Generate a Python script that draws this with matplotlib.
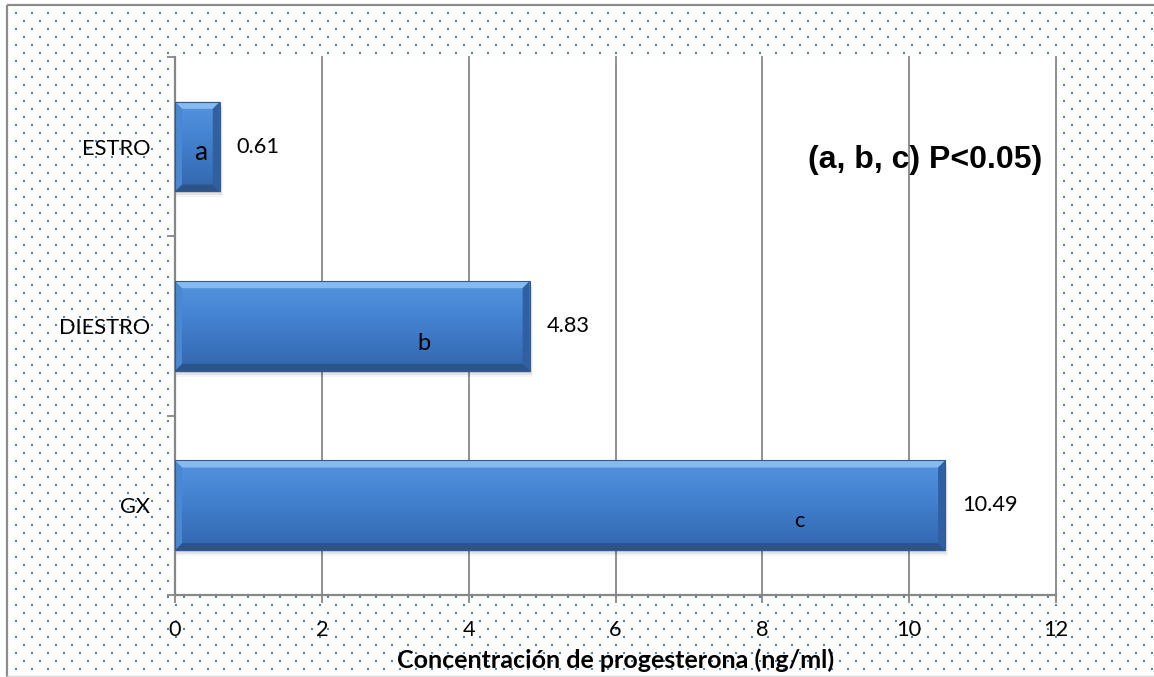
import matplotlib
matplotlib.use("Agg")
import matplotlib.pyplot as plt
import numpy as np
from matplotlib.patches import Rectangle, Polygon
from matplotlib.colors import LinearSegmentedColormap

# data
categories = ["ESTRO", "DIESTRO", "GX"]
values = [0.61, 4.83, 10.49]
value_labels = ["0.61", "4.83", "10.49"]
letters = ["a", "b", "c"]
letter_x = [0.35, 3.39, 8.51]      # where the significance letters sit inside the bars
letter_dy = [0.03, 0.095, 0.09]
letter_size = [19, 17, 15.7]
x_ticks = [0, 2, 4, 6, 8, 10, 12]
note = "(a, b, c) P<0.05)"
x_title = "Concentración de progesterona (ng/ml)"

W, H = 1154, 677
GRAY = "#878787"
DOT = "#4F81BD"
TICK_FONT = "Lato"
FS = 15.7

fig = plt.figure(figsize=(W / 100, H / 100), dpi=100)
fig.patch.set_facecolor("white")

# dotted background of the chart area + outer frame (pixel coords)
bg = fig.add_axes([0, 0, 1, 1], zorder=0)
bg.set_xlim(0, W)
bg.set_ylim(H, 0)
bg.axis("off")
dx, dy = [], []
for i, yy in enumerate(np.arange(13, H, 8)):
    start = 16 if i % 2 == 0 else 24
    xs = np.arange(start, W, 16)
    dx.extend(xs)
    dy.extend([yy] * len(xs))
bg.scatter(dx, dy, s=2.2, marker="s", color=DOT, linewidths=0)
bg.add_patch(Rectangle((7, 5), W + 20, H + 20, fill=False, edgecolor="#8c8c8c", lw=1.6))
bg.plot([7, W], [H - 1, H - 1], color="#d9d9d9", lw=1)

# plot area
ax = fig.add_axes([175 / W, 1 - 595 / H, (1056 - 175) / W, (595 - 57) / H], zorder=1)
ax.set_facecolor("white")
ax.set_xlim(0, 12)
ax.set_ylim(2.5, -0.5)

px_x = (1056 - 175) / 12.0   # pixels per x unit
px_y = (595 - 57) / 3.0      # pixels per y unit
bh = 0.5
bev_x = 7 / px_x
bev_y = 7 / px_y

grad = np.linspace(0, 1, 256).reshape(-1, 1)
body_cmap = LinearSegmentedColormap.from_list(
    "body", ["#5494DE", "#4686D4", "#3C76C2", "#3266AC"])

for i, v in enumerate(values):
    y0 = i - bh / 2
    y1 = i + bh / 2
    # soft shadow
    for k, a in enumerate([0.10, 0.07, 0.04]):
        off = (2 + 2 * k) / px_y
        ax.add_patch(Rectangle((0, y0 + off), v + (1 + k) / px_x, bh,
                               facecolor="black", alpha=a, lw=0, zorder=2))
    bar = ax.barh(i, v, height=bh, color="#3F7CC8", lw=0, zorder=3)[0]
    im = ax.imshow(grad, cmap=body_cmap, aspect="auto",
                   extent=(0, v, y1, y0), zorder=3.1)
    im.set_clip_path(bar)
    bx = min(bev_x, v / 3)
    # bevels
    ax.add_patch(Polygon([(0, y0), (v, y0), (v - bx, y0 + bev_y), (bx, y0 + bev_y)],
                         closed=True, facecolor="#86BBF2", lw=0, zorder=3.2))
    ax.add_patch(Polygon([(0, y1), (v, y1), (v - bx, y1 - bev_y), (bx, y1 - bev_y)],
                         closed=True, facecolor="#2D5489", lw=0, zorder=3.2))
    ax.add_patch(Polygon([(0, y0), (bx, y0 + bev_y), (bx, y1 - bev_y), (0, y1)],
                         closed=True, facecolor="#4A88D2", lw=0, zorder=3.2))
    ax.add_patch(Polygon([(v, y0), (v - bx, y0 + bev_y), (v - bx, y1 - bev_y), (v, y1)],
                         closed=True, facecolor="#30609F", lw=0, zorder=3.2))
    ax.add_patch(Rectangle((0, y0), v, bh, fill=False, edgecolor="#2F5A92",
                           lw=0.8, zorder=3.3))
    ax.annotate(value_labels[i], xy=(v, i), xytext=(12, 0), textcoords="offset points",
                ha="left", va="center", fontsize=FS, family=TICK_FONT, zorder=4)
    ax.text(letter_x[i], i + letter_dy[i], letters[i], ha="center", va="center",
            fontsize=letter_size[i], family=TICK_FONT, zorder=4)

# grid and axes
ax.set_xticks(x_ticks)
ax.set_xticklabels([str(t) for t in x_ticks], family=TICK_FONT, fontsize=FS)
ax.grid(axis="x", color=GRAY, lw=1.3, zorder=1)
ax.set_axisbelow(True)
for gl in ax.get_xgridlines():
    gl.set_clip_on(False)
ax.tick_params(axis="x", direction="out", length=6, width=1.3, color=GRAY, pad=12)

ax.set_yticks([-0.5, 0.5, 1.5, 2.5])
ax.set_yticklabels([])
ax.set_yticks([0, 1, 2], minor=True)
ax.set_yticklabels(categories, minor=True, family=TICK_FONT, fontsize=FS)
ax.tick_params(axis="y", which="major", direction="out", length=5.5, width=1.3, color=GRAY)
ax.tick_params(axis="y", which="minor", length=0, pad=18)

for s in ["top", "right"]:
    ax.spines[s].set_visible(False)
for s in ["left", "bottom"]:
    ax.spines[s].set_color(GRAY)
    ax.spines[s].set_linewidth(1.6)

ax.set_xlabel(x_title, family=TICK_FONT, fontweight="bold", fontsize=18, labelpad=6)

ax.text(0.7185, 0.808, note, transform=ax.transAxes, ha="left", va="center",
        fontsize=23, fontweight="bold", family="Liberation Sans", zorder=5)

fig.savefig("out.png", dpi=100)
